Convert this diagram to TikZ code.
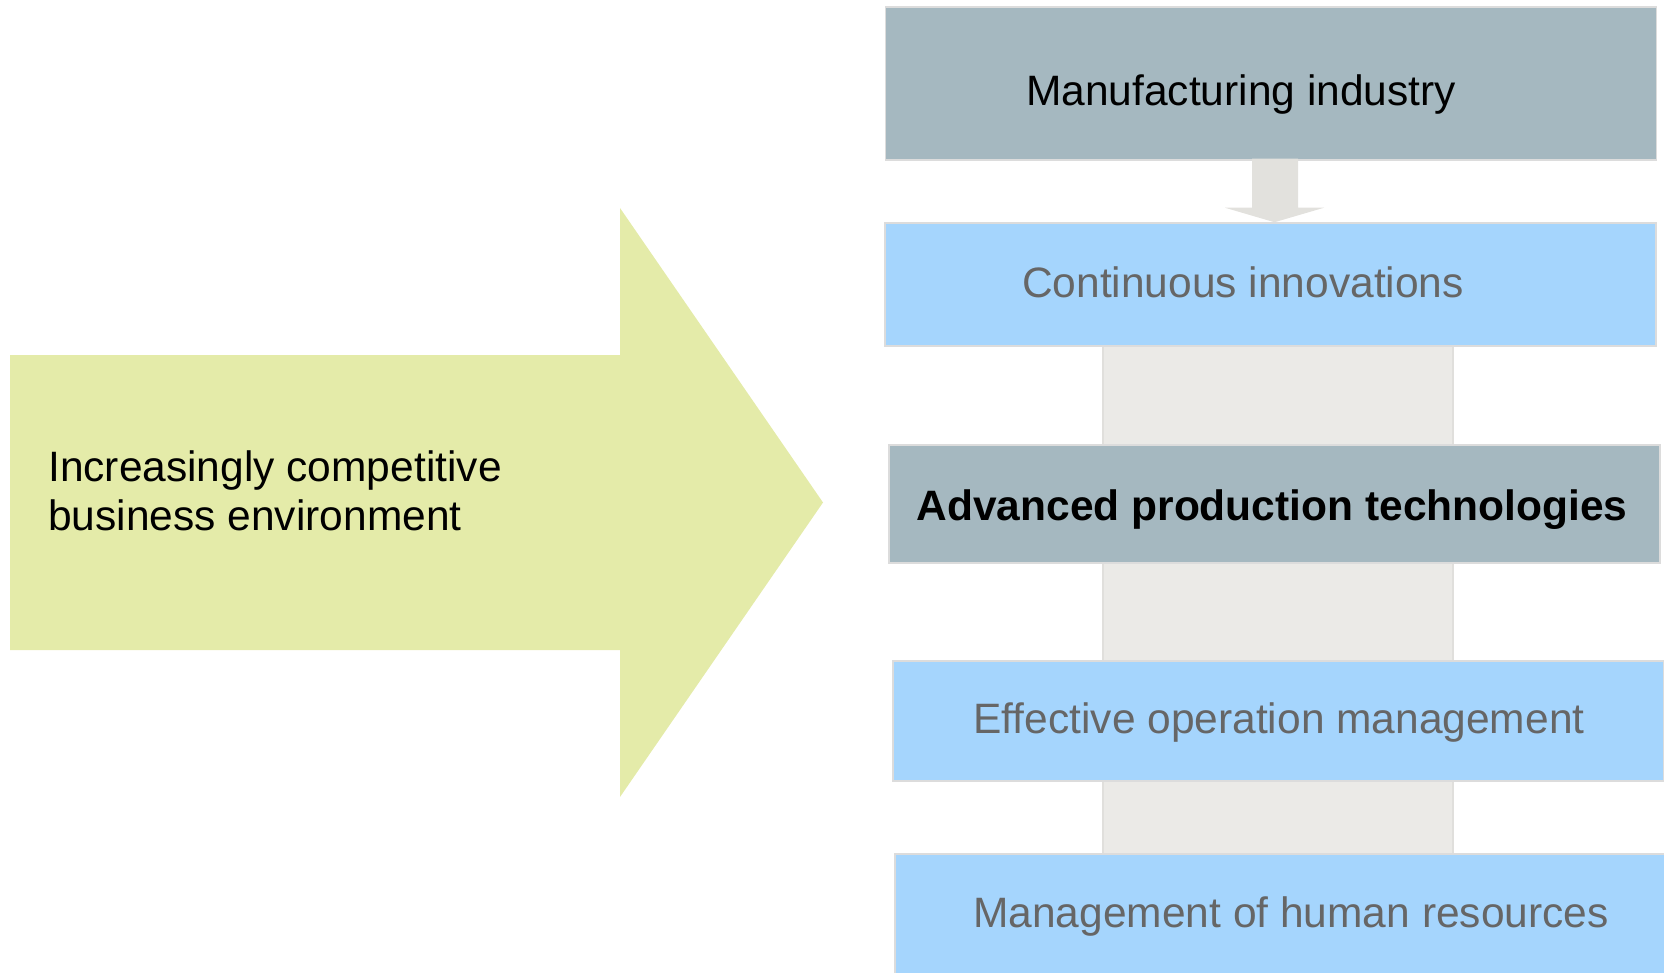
\documentclass[tikz,border=0pt]{standalone}
\usepackage{fontspec}
\setmainfont{Liberation Sans}
\usetikzlibrary{calc}
\definecolor{grayfill}{HTML}{A5B8C0}
\definecolor{bluefill}{HTML}{A5D5FD}
\definecolor{boxline}{HTML}{DCDCDC}
\definecolor{colfill}{HTML}{EBEAE7}
\definecolor{colline}{HTML}{E0DFDC}
\definecolor{smallarrow}{HTML}{E2E1DD}
\definecolor{bigarrow}{HTML}{E4EBA9}
\definecolor{softtext}{HTML}{666666}
\begin{document}
\begin{tikzpicture}[x=1pt,y=-1pt,
  box/.style={draw=boxline,line width=1.5pt,minimum width=771pt,inner sep=0pt},
  graybox/.style={box,fill=grayfill},
  bluebox/.style={box,fill=bluefill},
  label/.style={anchor=base,inner sep=0pt,font=\fontsize{42.5}{49}\selectfont},
  darklabel/.style={label,text=black},
  softlabel/.style={label,text=softtext}]
\useasboundingbox (0,0) rectangle (1664,973);

% big arrow
\fill[bigarrow] (10,355) -- (620,355) -- (620,208) -- (823,502.5) -- (620,797) -- (620,650) -- (10,650) -- cycle;
\node[anchor=base west,align=left,inner sep=0pt,font=\fontsize{42.5}{49}\selectfont] (env) at (48,530)
  {Increasingly competitive\\business environment};

% column behind
\draw[colline,fill=colfill,line width=1.5pt] (1103,346) rectangle (1453,856);

% boxes
\node[graybox,minimum height=153pt] (mfg) at (1271,83.5) {};
\node[bluebox,minimum height=123pt] (cont) at (1270.5,284.5) {};
\node[graybox,minimum height=118pt] (adv) at (1274.5,504) {};
\node[bluebox,minimum height=120pt] (eff) at (1278.5,721) {};
\node[bluebox,minimum height=123pt] (hr) at (1280.5,915.5) {};

% labels
\node[darklabel] (mfgt) at (1241,106) {Manufacturing industry};
\node[softlabel] (contt) at (1243,298) {Continuous innovations};
\node[darklabel,font=\bfseries\fontsize{42.5}{49}\selectfont] (advt) at (1272,520) {Advanced production technologies};
\node[softlabel] (efft) at (1279,733) {Effective operation management};
\node[softlabel] (hrt) at (1291,927) {Management of human resources};

% small block arrow
\coordinate (tail) at ([xshift=4pt]mfg.south);
\coordinate (tip) at ([xshift=4pt]cont.north);
\fill[smallarrow] ($(tail)+(-23,-2)$) -- ($(tail)+(23,-2)$) -- ($(tail)+(23,47)$) -- ($(tail)+(49,47)$)
  -- (tip) -- ($(tail)+(-50,47)$) -- ($(tail)+(-23,47)$) -- cycle;
\end{tikzpicture}
\end{document}
